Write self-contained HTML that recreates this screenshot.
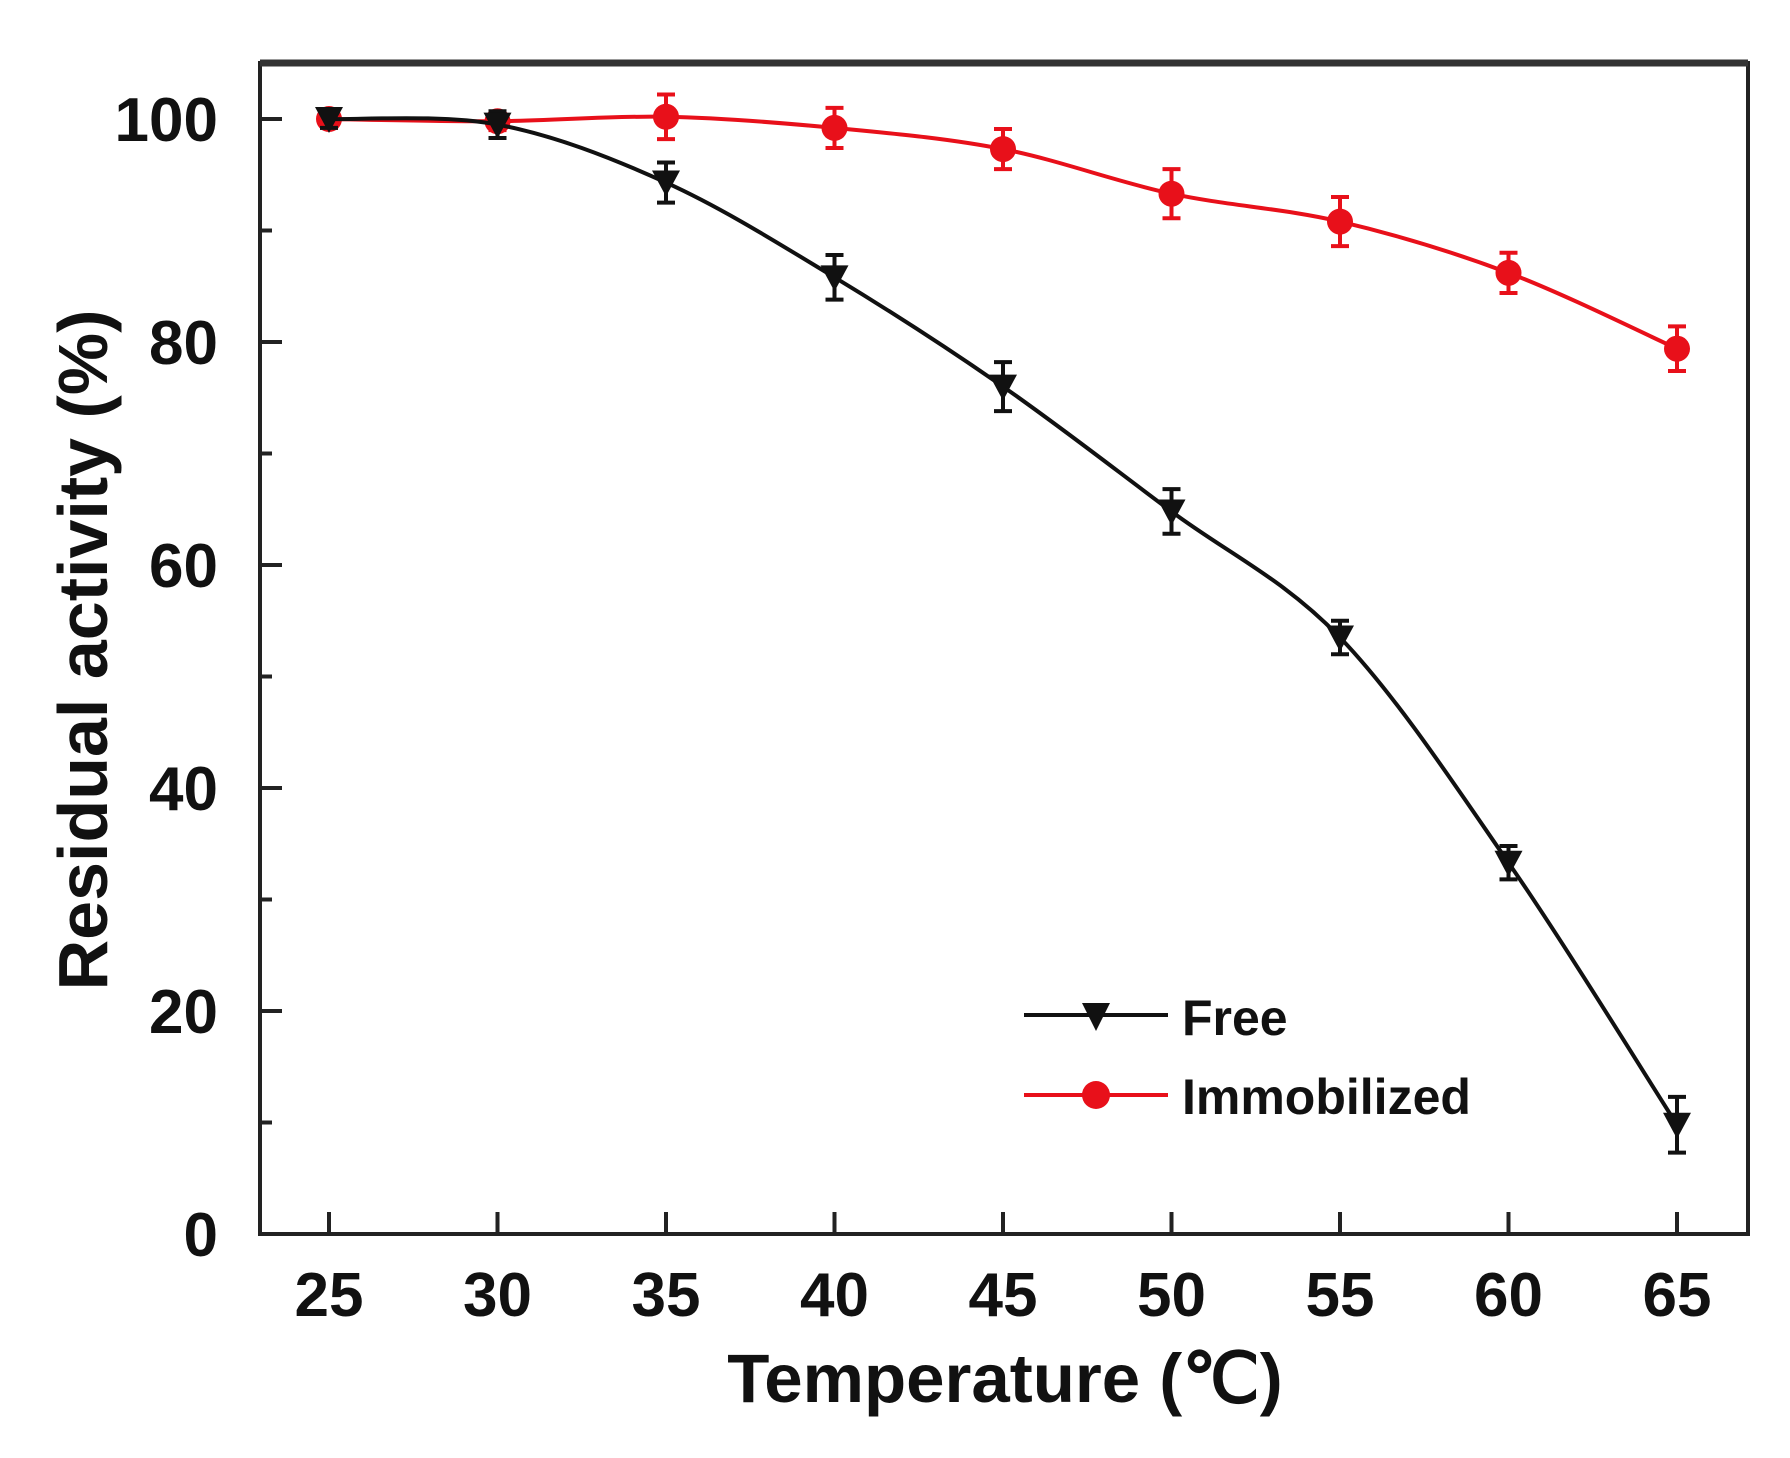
<!DOCTYPE html>
<html><head><meta charset="utf-8"><style>
html,body{margin:0;padding:0;background:#fff;}
svg{display:block;}
text{font-family:"Liberation Sans",sans-serif;font-weight:bold;fill:#111;}
</style></head><body>
<svg id="chart" width="1790" height="1458" viewBox="0 0 1790 1458" xmlns="http://www.w3.org/2000/svg">
<rect x="0" y="0" width="1790" height="1458" fill="#fff"/>
<g id="plot"></g>
</svg>
<script>
const temps = [25,30,35,40,45,50,55,60,65];
const freeVals = [100,99.5,94.3,85.8,76,64.8,53.5,33.3,9.8];
const freeErr = [0.8,1.2,1.8,2,2.2,2,1.5,1.5,2.5];
const immVals = [100,99.8,100.2,99.2,97.3,93.3,90.8,86.2,79.4];
const immErr = [0.8,0.8,2,1.8,1.8,2.2,2.2,1.8,2];
const xTicks = [25,30,35,40,45,50,55,60,65];
const yTicks = [0,20,40,60,80,100];
const yMinor = [10,30,50,70,90];

const L=260,R=1748,T=63,B=1234;
const X = v => 329 + (v-25)*(1677-329)/40;
const Y = v => 1234 - v*(1234-119)/100;
const NS="http://www.w3.org/2000/svg";
const g=document.getElementById('plot');
function el(tag,attrs,parent){const e=document.createElementNS(NS,tag);for(const k in attrs)e.setAttribute(k,attrs[k]);(parent||g).appendChild(e);return e;}

const frame=el('rect',{x:L,y:T,width:R-L,height:B-T,fill:'none',stroke:'#222','stroke-width':4});


const topb=el('line',{x1:L,y1:T,x2:R,y2:T,stroke:'#333','stroke-width':7});



xTicks.forEach(v=>{
  const t=el('line',{x1:X(v),y1:B,x2:X(v),y2:B-22,stroke:'#222','stroke-width':4});
  
  
  const tx=el('text',{x:X(v),y:1316,'font-size':62,'text-anchor':'middle'});
  tx.textContent=v;
  
  
});
yTicks.forEach(v=>{
  const t=el('line',{x1:L,y1:Y(v),x2:L+22,y2:Y(v),stroke:'#222','stroke-width':4});
  
  
  const tx=el('text',{x:218,y:Y(v)+22,'font-size':62,'text-anchor':'end'});
  tx.textContent=v;
  
  
});
yMinor.forEach(v=>{
  const t=el('line',{x1:L,y1:Y(v),x2:L+12,y2:Y(v),stroke:'#222','stroke-width':4});
  
  
});

const xt=el('text',{x:1005,y:1402,'font-size':69,'text-anchor':'middle'});
xt.textContent='Temperature (℃)';


const yt=el('text',{x:0,y:0,'font-size':70,'text-anchor':'middle',transform:'translate(107,650) rotate(-90)'});
yt.textContent='Residual activity (%)';



function spline(xs,ys){
  const p=xs.map((x,i)=>[X(x),Y(ys[i])]);
  let d='M'+p[0][0]+','+p[0][1];
  for(let i=0;i<p.length-1;i++){
    const p0=p[i-1]||p[i],p1=p[i],p2=p[i+1],p3=p[i+2]||p[i+1];
    const c1=[p1[0]+(p2[0]-p0[0])/6,p1[1]+(p2[1]-p0[1])/6];
    const c2=[p2[0]-(p3[0]-p1[0])/6,p2[1]-(p3[1]-p1[1])/6];
    d+=' C'+c1+' '+c2+' '+p2;
  }
  return d;
}
function series(vals,errs,color,name,marker){
  const path=el('path',{d:spline(temps,vals),fill:'none',stroke:color,'stroke-width':4});
  
  
  temps.forEach((t,i)=>{
    const x=X(t),y=Y(vals[i]),e1=Y(vals[i]+errs[i]),e2=Y(vals[i]-errs[i]);
    const eb=el('path',{d:`M${x},${e1}V${e2}M${x-9},${e1}H${x+9}M${x-9},${e2}H${x+9}`,stroke:color,'stroke-width':4,fill:'none'});
    
    
    let m;
    if(marker==='tri') m=el('path',{d:`M${x-14},${y-12}H${x+14}L${x},${y+14}Z`,fill:color});
    else m=el('circle',{cx:x,cy:y,r:13,fill:color});
    
    
  });
}
series(immVals,immErr,'#e8101a','immobilized','circle');
series(freeVals,freeErr,'#111','free','tri');

const l1=el('line',{x1:1024,y1:1015,x2:1168,y2:1015,stroke:'#111','stroke-width':4});


const m1=el('path',{d:'M1082,1003H1110L1096,1031Z',fill:'#111'});


const t1=el('text',{x:1182,y:1035,'font-size':50});
t1.textContent='Free';


const l2=el('line',{x1:1024,y1:1095,x2:1168,y2:1095,stroke:'#e8101a','stroke-width':4});


const m2=el('circle',{cx:1096,cy:1095,r:14,fill:'#e8101a'});


const t2=el('text',{x:1182,y:1114,'font-size':50});
t2.textContent='Immobilized';


</script>
</body></html>
